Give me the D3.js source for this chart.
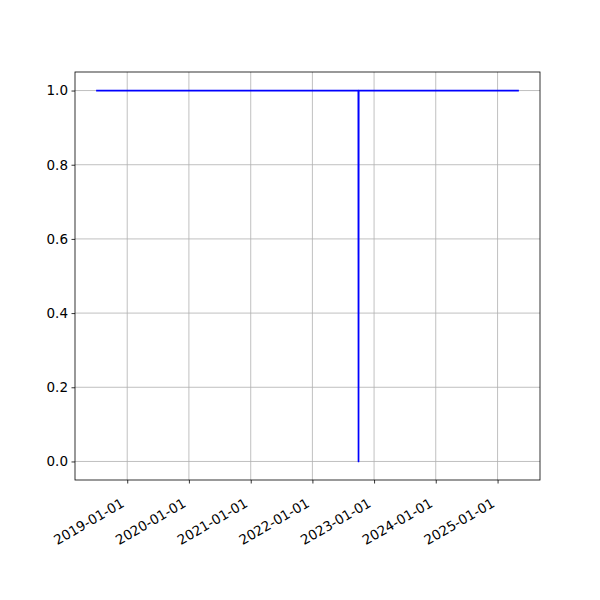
<!DOCTYPE html>
<html><head><meta charset="utf-8">
<script src="https://cdn.jsdelivr.net/npm/d3@7"></script>
<style>body{margin:0;background:#fff}</style>
</head><body>
<script>
const dates = ["2018-07-01","2022-09-30","2022-10-01","2022-10-02","2025-05-07"];
const values = [1,1,0,1,1];
const xTicks = ["2019-01-01","2020-01-01","2021-01-01","2022-01-01","2023-01-01","2024-01-01","2025-01-01"];
const yTicks = [0.0,0.2,0.4,0.6,0.8,1.0];

const W=600,H=600, L=75,R=540,T=72,B=480;
const parse=d3.utcParse("%Y-%m-%d");
const data=dates.map((d,i)=>({d:parse(d),v:values[i]}));
const ext=d3.extent(data,d=>d.d);
const span=ext[1]-ext[0];
const x=d3.scaleUtc().domain([new Date(+ext[0]-0.05*span),new Date(+ext[1]+0.05*span)]).range([L,R]);
const y=d3.scaleLinear().domain([-0.05,1.05]).range([B,T]);

const svg=d3.select("body").append("svg").attr("width",W).attr("height",H);
svg.append("rect").attr("width",W).attr("height",H).attr("fill","#fff");

const tickDates=xTicks.map(parse);
// grid
svg.append("g").selectAll("line").data(tickDates).join("line")
  .attr("x1",d=>x(d)).attr("x2",d=>x(d)).attr("y1",T).attr("y2",B)
  .attr("stroke","#b0b0b0").attr("stroke-width",0.8);
svg.append("g").selectAll("line").data(yTicks).join("line")
  .attr("x1",L).attr("x2",R).attr("y1",d=>y(d)).attr("y2",d=>y(d))
  .attr("stroke","#b0b0b0").attr("stroke-width",0.8);

// line
svg.append("path").datum(data)
  .attr("d",d3.line().x(d=>x(d.d)).y(d=>y(d.v)))
  .attr("fill","none").attr("stroke","#0000ff").attr("stroke-width",1.7)
  .attr("stroke-linejoin","round");

// frame
svg.append("rect").attr("x",L).attr("y",T).attr("width",R-L).attr("height",B-T)
  .attr("fill","none").attr("stroke","#000").attr("stroke-width",0.8);

// x axis
const xa=svg.append("g").attr("transform",`translate(0,${B})`)
  .call(d3.axisBottom(x).tickValues(tickDates).tickSize(3.5).tickPadding(0).tickFormat(d3.utcFormat("%Y-%m-%d")));
xa.select(".domain").remove();
xa.selectAll(".tick line").attr("stroke","#000").attr("stroke-width",0.8);
xa.selectAll(".tick text")
  .attr("font-family","DejaVu Sans").attr("font-size","13.5px").attr("fill","#000")
  .attr("text-anchor","end").attr("dy",null).attr("y",null)
  .attr("transform","translate(-2.5,26) rotate(-30)");

// y axis
const ya=svg.append("g").attr("transform",`translate(${L},0)`)
  .call(d3.axisLeft(y).tickValues(yTicks).tickSize(3.5).tickPadding(3.5).tickFormat(d3.format(".1f")));
ya.select(".domain").remove();
ya.selectAll(".tick line").attr("stroke","#000").attr("stroke-width",0.8);
ya.selectAll(".tick text").attr("font-family","DejaVu Sans").attr("font-size","13.5px").attr("fill","#000");
</script>
</body></html>
